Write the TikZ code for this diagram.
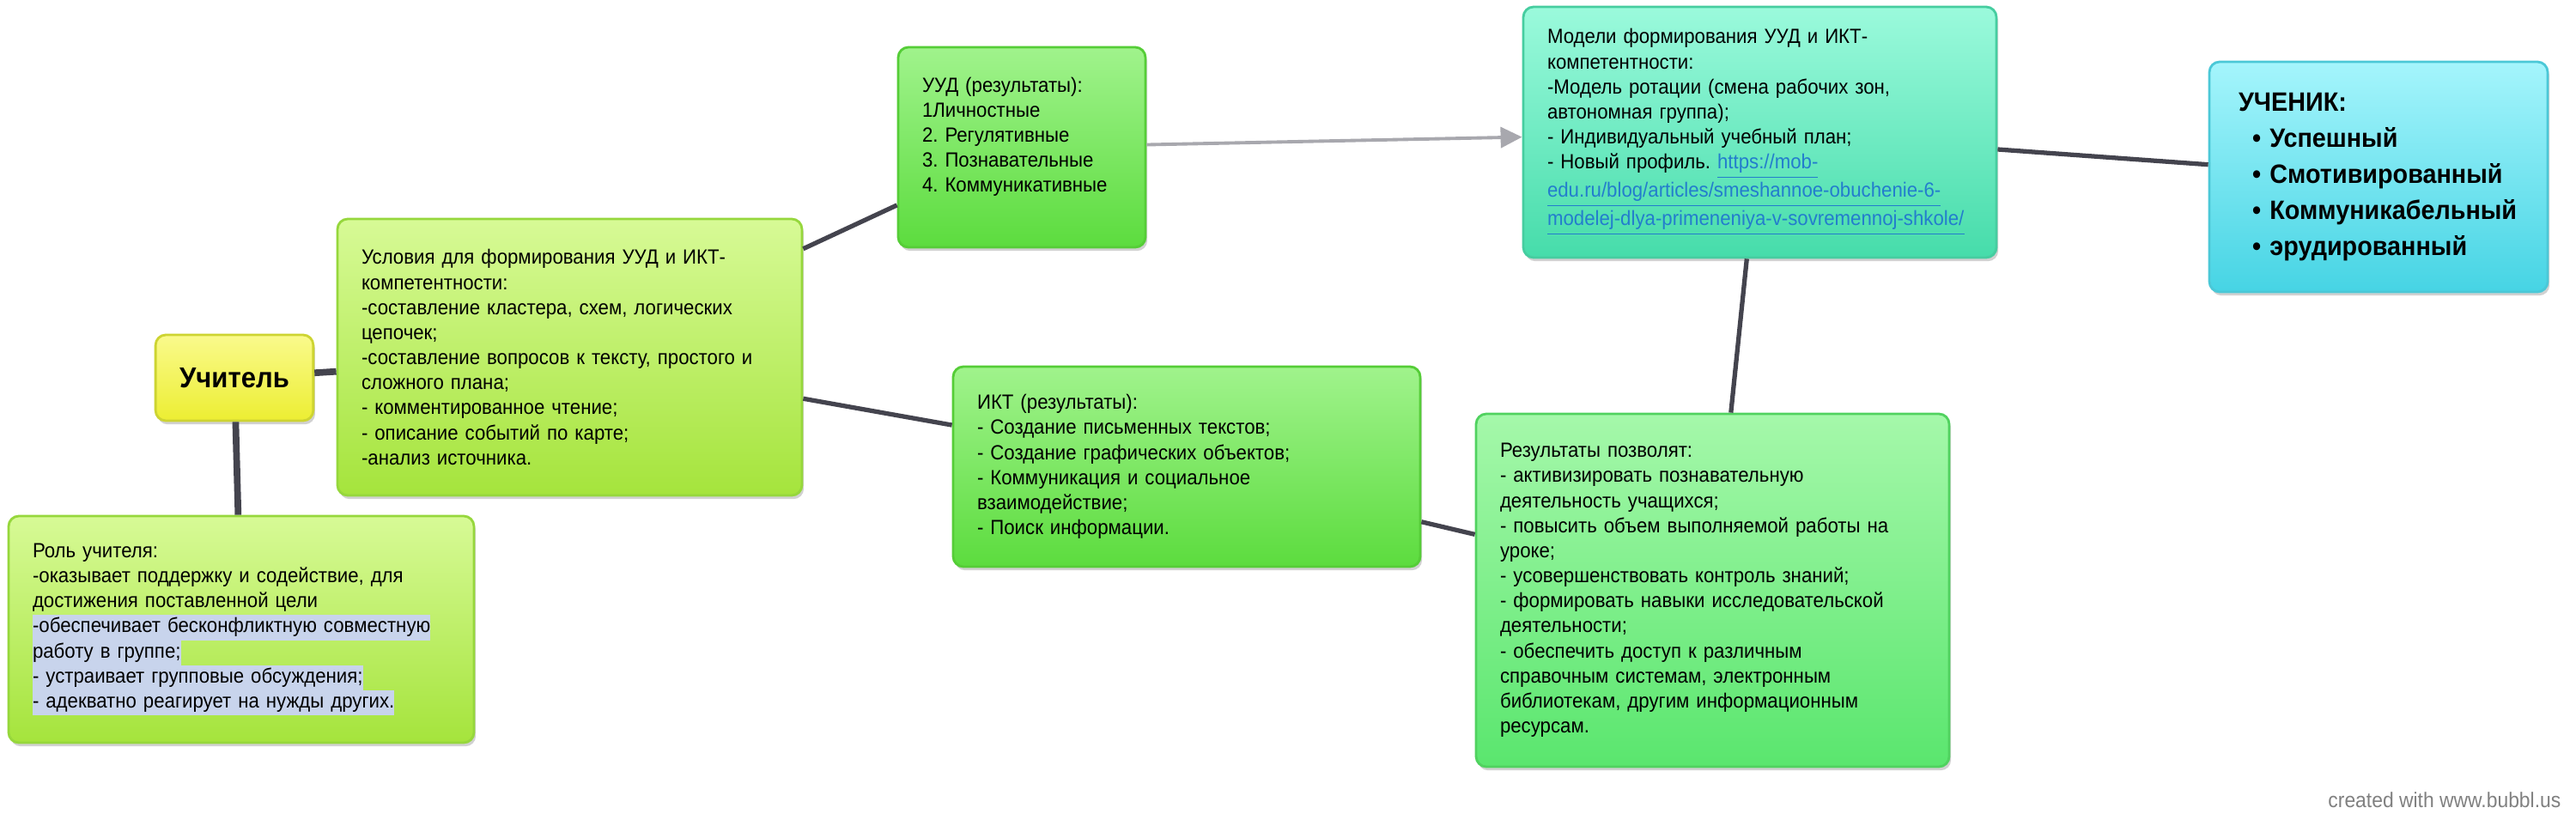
\documentclass[tikz,border=0pt]{standalone}
\usepackage{fontspec}
\setmainfont{Liberation Sans}[FakeStretch=0.93]
\definecolor{wiregray}{RGB}{68,68,78}
\definecolor{arrowgray}{RGB}{168,168,174}
\definecolor{selblue}{RGB}{200,212,236}
\definecolor{urlblue}{RGB}{35,125,205}
\definecolor{markgray}{RGB}{128,128,128}
\usetikzlibrary{shadows, arrows.meta}

\newcommand{\bubtext}{\fontsize{6.8}{8.3}\selectfont}
\newcommand{\selhl}[1]{{\setlength{\fboxsep}{0pt}\colorbox{selblue}{\strut #1}}}
\newcommand{\weblink}[1]{\textcolor{urlblue}{\underline{#1}}}
\frenchspacing

\begin{document}
\begin{tikzpicture}[
    bubble/.style={rectangle, rounded corners=0.12cm, line width=0.8pt, inner xsep=0.28cm, inner ysep=0.1cm,
        align=left, font=\bubtext, drop shadow={shadow xshift=0.6pt, shadow yshift=-1.2pt, opacity=0.18, fill=black}},
    yellowbub/.style={bubble, draw={rgb,255:red,205;green,212;blue,50}, top color={rgb,255:red,250;green,250;blue,140}, bottom color={rgb,255:red,236;green,238;blue,50}},
    limebub/.style={bubble, draw={rgb,255:red,150;green,215;blue,60}, top color={rgb,255:red,215;green,250;blue,150}, bottom color={rgb,255:red,165;green,228;blue,60}},
    greenbub/.style={bubble, draw={rgb,255:red,85;green,205;blue,55}, top color={rgb,255:red,160;green,243;blue,140}, bottom color={rgb,255:red,92;green,220;blue,62}},
    mintbub/.style={bubble, draw={rgb,255:red,80;green,210;blue,95}, top color={rgb,255:red,165;green,248;blue,170}, bottom color={rgb,255:red,90;green,230;blue,110}},
    tealbub/.style={bubble, draw={rgb,255:red,70;green,205;blue,160}, top color={rgb,255:red,155;green,250;blue,220}, bottom color={rgb,255:red,70;green,220;blue,170}},
    cyanbub/.style={bubble, draw={rgb,255:red,75;green,200;blue,215}, top color={rgb,255:red,165;green,245;blue,252}, bottom color={rgb,255:red,70;green,212;blue,228}},
    wire/.style={draw=wiregray, line width=1.5pt},
]
    \useasboundingbox (0,0) rectangle (30,-9.62);

    % Teacher and his role
    \node[yellowbub, minimum width=1.83cm, minimum height=1.00cm, align=center, font=\fontsize{9.5}{11}\selectfont\bfseries] (teacher) at (2.73,-4.40) {Учитель};
    \node[limebub, text width=4.86cm, minimum width=5.42cm, minimum height=2.64cm] (role) at (2.81,-7.33) {
        Роль учителя:\\
        -оказывает поддержку и содействие, для\\
        достижения поставленной цели\\
        \selhl{-обеспечивает бесконфликтную совместную}\\
        \selhl{работу в группе;}\\
        \selhl{- устраивает групповые обсуждения;}\\
        \selhl{- адекватно реагирует на нужды других.}
    };

    % Conditions box
    \node[limebub, text width=4.85cm, minimum width=5.41cm, minimum height=3.22cm] (cond) at (6.635,-4.16) {
        Условия для формирования УУД и ИКТ-\\
        компетентности:\\
        -составление кластера, схем, логических\\
        цепочек;\\
        -составление вопросов к тексту, простого и\\
        сложного плана;\\
        - комментированное чтение;\\
        - описание событий по карте;\\
        -анализ источника.
    };

    % Results of UUD and ICT
    \node[greenbub, text width=2.32cm, minimum width=2.88cm, minimum height=2.33cm] (uud) at (11.90,-1.715) {
        УУД (результаты):\\
        1Личностные\\
        2. Регулятивные\\
        3. Познавательные\\
        4. Коммуникативные\\
        \mbox{}
    };
    \node[greenbub, text width=4.88cm, minimum width=5.44cm, minimum height=2.33cm] (ikt) at (13.82,-5.435) {
        ИКТ (результаты):\\
        - Создание письменных текстов;\\
        - Создание графических объектов;\\
        - Коммуникация и социальное\\
        взаимодействие;\\
        - Поиск информации.
    };

    % Models and outcomes
    \node[tealbub, text width=4.95cm, minimum width=5.51cm, minimum height=2.92cm] (models) at (20.495,-1.54) {
        Модели формирования УУД и ИКТ-\\
        компетентности:\\
        -Модель ротации (смена рабочих зон,\\
        автономная группа);\\
        - Индивидуальный учебный план;\\
        - Новый профиль. \weblink{https://mob-}\\
        \weblink{edu.ru/blog/articles/smeshannoe-obuchenie-6-}\\
        \weblink{modelej-dlya-primeneniya-v-sovremennoj-shkole/}
    };
    \node[mintbub, text width=4.95cm, minimum width=5.51cm, minimum height=4.11cm] (results) at (19.945,-6.875) {
        Результаты позволят:\\
        - активизировать познавательную\\
        деятельность учащихся;\\
        - повысить объем выполняемой работы на\\
        уроке;\\
        - усовершенствовать контроль знаний;\\
        - формировать навыки исследовательской\\
        деятельности;\\
        - обеспечить доступ к различным\\
        справочным системам, электронным\\
        библиотекам, другим информационным\\
        ресурсам.
    };

    % Pupil
    \node[cyanbub, inner xsep=0.34cm, text width=3.26cm, minimum width=3.94cm, minimum height=2.68cm, font=\fontsize{8.8}{11.95}\selectfont\bfseries] (pupil) at (27.70,-2.06) {
        УЧЕНИК:\\
        \hspace*{0.16cm}• Успешный\\
        \hspace*{0.16cm}• Смотивированный\\
        \hspace*{0.16cm}• Коммуникабельный\\
        \hspace*{0.16cm}• эрудированный
    };

    % Connections
    \draw[wire, line width=2.2pt] (teacher) -- (cond);
    \draw[wire, line width=2.2pt] (teacher) -- (role);
    \draw[wire] (cond) -- (uud);
    \draw[wire] (cond) -- (ikt);
    \draw[draw=arrowgray, line width=1.1pt, -{Triangle[length=0.25cm, width=0.24cm]}] (uud) -- (models);
    \draw[wire] (ikt) -- (results);
    \draw[wire] (models) -- (results);
    \draw[wire] (models) -- (pupil);

    % Watermark
    \node[anchor=east, inner sep=0pt, text=markgray, font=\fontsize{7}{8}\selectfont] (mark) at (29.83,-9.32) {created with www.bubbl.us};
\end{tikzpicture}
\end{document}
